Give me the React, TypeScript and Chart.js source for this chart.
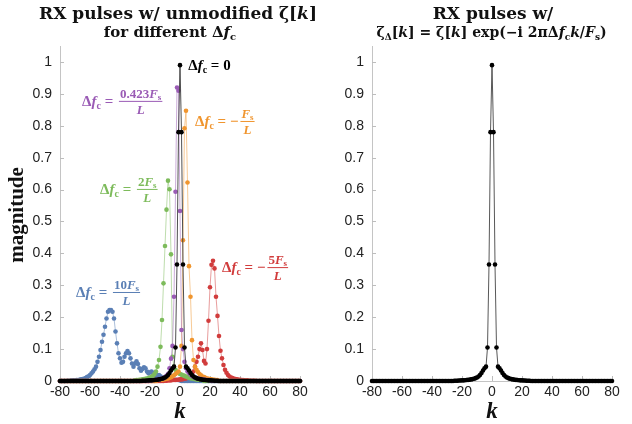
import React, { useEffect, useRef } from "react";
import { Chart, registerables } from "chart.js";

Chart.register(...registerables);

// ---------- data ----------
const kValues: number[] = Array.from({ length: 161 }, (_, i) => i - 80);

const xMin = -80;
const xMax = 80;
const xStep = 20;
const yMin = 0;
const yMax = 1.05;
const yStep = 0.1;

// each series: first k index and values from there (outside: 0)
const blackStart = -25;
const blackVals = [
  0.001, 0.001, 0.001, 0.0015, 0.0015, 0.002, 0.002, 0.0025, 0.003, 0.0035, 0.004, 0.005, 0.006,
  0.007, 0.009, 0.011, 0.014, 0.019, 0.025, 0.033, 0.04, 0.045, 0.105, 0.365, 0.78,
  0.99,
  0.78, 0.365, 0.105, 0.045, 0.04, 0.033, 0.025, 0.019, 0.014, 0.011, 0.009, 0.007, 0.006, 0.005,
  0.004, 0.0035, 0.003, 0.0025, 0.002, 0.002, 0.0015, 0.0015, 0.001, 0.001, 0.001,
];

const purpleStart = -20;
const purpleVals = [
  0.002, 0.002, 0.003, 0.003, 0.004, 0.004, 0.005, 0.006, 0.007, 0.009, 0.012, 0.016, 0.022, 0.04,
  0.07, 0.11, 0.264, 0.593, 0.92, 0.91,
  0.533, 0.16, 0.1, 0.06, 0.04, 0.03, 0.025, 0.02, 0.016, 0.013, 0.011, 0.009, 0.008, 0.007, 0.006,
  0.005, 0.004, 0.004, 0.003, 0.003, 0.002,
];

const orangeStart = -15;
const orangeVals = [
  0.003, 0.003, 0.004, 0.004, 0.005, 0.006, 0.007, 0.008, 0.01, 0.012, 0.015, 0.018, 0.022, 0.026,
  0.03,
  0.045, 0.11, 0.441, 0.792, 0.847, 0.622, 0.36, 0.264, 0.128, 0.066, 0.045, 0.035, 0.028, 0.022,
  0.018, 0.014, 0.012, 0.01, 0.008, 0.007, 0.006, 0.005, 0.004, 0.004, 0.003, 0.003,
];

const greenStart = -30;
const greenVals = [
  0.002, 0.003, 0.003, 0.004, 0.004, 0.005, 0.006, 0.007, 0.008, 0.009, 0.011, 0.013, 0.016, 0.022,
  0.03, 0.045, 0.066, 0.107, 0.191, 0.306, 0.423, 0.537, 0.628, 0.601, 0.397, 0.076, 0.045, 0.035,
  0.028, 0.025,
  0.022, 0.02, 0.018, 0.016, 0.014, 0.012, 0.01, 0.009, 0.008, 0.007, 0.006, 0.005, 0.004, 0.004,
  0.003, 0.003,
];

const redStart = -10;
const redVals = [
  0.001, 0.001, 0.002, 0.002, 0.002, 0.003, 0.003, 0.003, 0.004, 0.004,
  0.005, 0.005, 0.006, 0.007, 0.008, 0.01, 0.012, 0.015, 0.02, 0.03, 0.045, 0.06, 0.076, 0.1,
  0.118, 0.097, 0.063, 0.055, 0.1, 0.189, 0.294, 0.364, 0.377, 0.353, 0.264, 0.204, 0.141, 0.095,
  0.071, 0.05, 0.035, 0.026, 0.019, 0.014, 0.011, 0.009, 0.007, 0.006, 0.005, 0.004, 0.004, 0.003,
  0.003, 0.002, 0.002, 0.002, 0.001, 0.001, 0.001, 0.001, 0.001,
];

const blueStart = -75;
const blueVals = [
  0.001, 0.001, 0.001, 0.002, 0.002, 0.002, 0.003, 0.003, 0.004, 0.005, 0.006, 0.007, 0.009, 0.012,
  0.015, 0.019, 0.024, 0.03, 0.037, 0.045, 0.06, 0.076, 0.097, 0.123, 0.145, 0.17, 0.196, 0.217,
  0.222, 0.222, 0.217, 0.196, 0.155, 0.118, 0.087, 0.071, 0.057, 0.06, 0.076, 0.087, 0.094, 0.087,
  0.071, 0.055, 0.045, 0.055, 0.062, 0.053, 0.04, 0.032, 0.038, 0.043, 0.04, 0.03, 0.024, 0.027,
  0.03, 0.026, 0.02, 0.016, 0.018, 0.019, 0.015, 0.011, 0.009, 0.009, 0.008, 0.007, 0.006, 0.005,
  0.005, 0.004, 0.004, 0.003, 0.003, 0.002,
];

// ---------- style ----------
const SERIF = '"Liberation Serif", "DejaVu Serif", serif';
const TSERIF = '"DejaVu Serif", "Liberation Serif", serif';
const SANS = '"Liberation Sans", Arial, sans-serif';
const COL = {
  black: "#000000",
  purple: "#9a5bb5",
  orange: "#f0952e",
  green: "#7dbb5b",
  red: "#d13c3c",
  blue: "#5a7fb5",
};
const B = (s: number) => `bold ${s}px ${SERIF}`;
const BI = (s: number) => `italic bold ${s}px ${SERIF}`;
const TB = (s: number) => `bold ${s}px ${TSERIF}`;
const TBI = (s: number) => `italic bold ${s}px ${TSERIF}`;

type Run = { t: string; f: string; dy?: number };

function pad(start: number, vals: number[]) {
  return kValues.map((k) => {
    const i = k - start;
    return { x: k, y: i >= 0 && i < vals.length ? vals[i] : 0 };
  });
}

function runsWidth(ctx: CanvasRenderingContext2D, runs: Run[]) {
  let w = 0;
  for (const r of runs) {
    ctx.font = r.f;
    w += ctx.measureText(r.t).width;
  }
  return w;
}
function drawRuns(ctx: CanvasRenderingContext2D, runs: Run[], x: number, y: number) {
  let cx = x;
  for (const r of runs) {
    ctx.font = r.f;
    ctx.fillText(r.t, cx, y + (r.dy || 0));
    cx += ctx.measureText(r.t).width;
  }
  return cx;
}
function drawCentered(ctx: CanvasRenderingContext2D, runs: Run[], cx: number, y: number) {
  drawRuns(ctx, runs, cx - runsWidth(ctx, runs) / 2, y);
}

type Annot = { k: number; v: number; color: string; neg: boolean; num: Run[] | null; tail?: Run[] };

const dfc: Run[] = [
  { t: "Δ", f: B(15) },
  { t: "f", f: BI(15) },
  { t: "c", f: B(10), dy: 3 },
  { t: " = ", f: B(15) },
];
const Fs = (pre: string): Run[] => [
  ...(pre ? [{ t: pre, f: B(13) }] : []),
  { t: "F", f: BI(13) },
  { t: "s", f: B(9), dy: 2 },
];

const leftAnnots: Annot[] = [
  { k: 5.5, v: 0.99, color: COL.black, neg: false, num: null, tail: [{ t: "0", f: B(15) }] },
  { k: -65.3, v: 0.878, color: COL.purple, neg: false, num: Fs("0.423") },
  { k: 10, v: 0.815, color: COL.orange, neg: true, num: Fs("") },
  { k: -53.3, v: 0.602, color: COL.green, neg: false, num: Fs("2") },
  { k: 28, v: 0.357, color: COL.red, neg: true, num: Fs("5") },
  { k: -69.3, v: 0.279, color: COL.blue, neg: false, num: Fs("10") },
];

function drawAnnot(ctx: CanvasRenderingContext2D, chart: any, a: Annot) {
  const x = chart.scales.x.getPixelForValue(a.k);
  const y = chart.scales.y.getPixelForValue(a.v);
  ctx.fillStyle = a.color;
  ctx.strokeStyle = a.color;
  ctx.textBaseline = "alphabetic";
  const pre: Run[] = [...dfc, ...(a.neg ? [{ t: "−", f: B(15) }] : []), ...(a.tail || [])];
  const end = drawRuns(ctx, pre, x, y + 5);
  if (!a.num) return;
  const den: Run[] = [{ t: "L", f: BI(13) }];
  const nw = runsWidth(ctx, a.num);
  const dw = runsWidth(ctx, den);
  const w = Math.max(nw, dw) + 2;
  const fx = end + 2;
  ctx.lineWidth = 1;
  ctx.beginPath();
  ctx.moveTo(fx, y + 0.5);
  ctx.lineTo(fx + w, y + 0.5);
  ctx.stroke();
  drawRuns(ctx, a.num, fx + (w - nw) / 2, y - 3);
  drawRuns(ctx, den, fx + (w - dw) / 2, y + 13);
}

function decorPlugin(draw: (ctx: CanvasRenderingContext2D, chart: any) => void) {
  return {
    id: "decor",
    beforeDatasetsDraw(chart: any) {
      const ctx = chart.ctx as CanvasRenderingContext2D;
      const { left, bottom } = chart.chartArea;
      ctx.save();
      ctx.strokeStyle = "#bdbdbd";
      ctx.lineWidth = 1;
      ctx.beginPath();
      for (const t of chart.scales.y.ticks) {
        const y = Math.round(chart.scales.y.getPixelForValue(t.value)) + 0.5;
        ctx.moveTo(left, y);
        ctx.lineTo(left + 4, y);
      }
      for (const t of chart.scales.x.ticks) {
        const x = Math.round(chart.scales.x.getPixelForValue(t.value)) + 0.5;
        ctx.moveTo(x, bottom);
        ctx.lineTo(x, bottom - 5);
      }
      ctx.stroke();
      ctx.restore();
    },
    afterDraw(chart: any) {
      const ctx = chart.ctx as CanvasRenderingContext2D;
      ctx.save();
      draw(ctx, chart);
      ctx.restore();
    },
  };
}

function makeConfig(datasets: any[], yWidth: number, rightPad: number, draw: any): any {
  return {
    type: "line",
    data: { datasets },
    options: {
      animation: false,
      responsive: false,
      devicePixelRatio: 1,
      layout: { padding: { top: 46, right: rightPad, bottom: 0, left: 0 } },
      plugins: { legend: { display: false }, tooltip: { enabled: false }, title: { display: false } },
      events: [],
      scales: {
        x: {
          type: "linear",
          min: xMin,
          max: xMax,
          ticks: {
            stepSize: xStep,
            color: "#222",
            font: { family: SANS, size: 14 },
            padding: 3,
            maxRotation: 0,
            autoSkip: false,
            callback: (v: number) => String(v),
          },
          grid: { display: false, drawTicks: false },
          border: { display: true, color: "#c4c4c4" },
          afterFit: (s: any) => {
            s.height = 43;
          },
        },
        y: {
          type: "linear",
          min: yMin,
          max: yMax,
          ticks: {
            stepSize: yStep,
            includeBounds: false,
            color: "#222",
            font: { family: SANS, size: 14 },
            padding: 8,
            callback: (v: number) => String(Math.round(v * 10) / 10),
          },
          grid: { display: false, drawTicks: false },
          border: { display: true, color: "#c4c4c4" },
          afterFit: (s: any) => {
            s.width = yWidth;
          },
        },
      },
    },
    plugins: [decorPlugin(draw)],
  };
}

function ds(start: number, vals: number[], color: string, line: string) {
  return {
    data: pad(start, vals),
    borderColor: line,
    borderWidth: 1,
    pointRadius: 2.3,
    pointBackgroundColor: color,
    pointBorderColor: color,
    pointBorderWidth: 0,
    tension: 0,
    clip: false,
  };
}

function leftConfig() {
  const datasets = [
    ds(blackStart, blackVals, COL.black, "rgba(60,60,60,0.9)"),
    ds(purpleStart, purpleVals, COL.purple, "rgba(154,91,181,0.5)"),
    ds(orangeStart, orangeVals, COL.orange, "rgba(240,149,46,0.5)"),
    ds(greenStart, greenVals, COL.green, "rgba(125,187,91,0.5)"),
    ds(redStart, redVals, COL.red, "rgba(209,60,60,0.5)"),
    ds(blueStart, blueVals, COL.blue, "rgba(90,127,181,0.5)"),
  ];
  const draw = (ctx: CanvasRenderingContext2D, chart: any) => {
    const ca = chart.chartArea;
    ctx.fillStyle = "#111";
    ctx.textBaseline = "alphabetic";
    drawCentered(
      ctx,
      [
        { t: "RX pulses w/ unmodified ζ[", f: TB(17) },
        { t: "k", f: TBI(17) },
        { t: "]", f: TB(17) },
      ],
      178,
      19
    );
    drawCentered(
      ctx,
      [
        { t: "for different Δ", f: TB(15) },
        { t: "f", f: TBI(15) },
        { t: "c", f: TB(10), dy: 3 },
      ],
      170,
      37
    );
    drawCentered(ctx, [{ t: "k", f: BI(23) }], (ca.left + ca.right) / 2, 418);
    ctx.save();
    ctx.translate(18, 215);
    ctx.rotate(-Math.PI / 2);
    ctx.textAlign = "center";
    ctx.textBaseline = "middle";
    ctx.font = B(21);
    ctx.fillText("magnitude", 0, 0);
    ctx.restore();
    for (const a of leftAnnots) drawAnnot(ctx, chart, a);
  };
  return makeConfig(datasets, 60, 16, draw);
}

function rightConfig() {
  const datasets = [ds(blackStart, blackVals, COL.black, "rgba(70,70,70,0.9)")];
  const draw = (ctx: CanvasRenderingContext2D, chart: any) => {
    const ca = chart.chartArea;
    ctx.fillStyle = "#111";
    ctx.textBaseline = "alphabetic";
    drawCentered(ctx, [{ t: "RX pulses w/", f: TB(17) }], 177, 19);
    drawCentered(
      ctx,
      [
        { t: "ζ", f: TB(14) },
        { t: "Δ", f: TB(9), dy: 3 },
        { t: "[", f: TB(14) },
        { t: "k", f: TBI(14) },
        { t: "] = ζ[", f: TB(14) },
        { t: "k", f: TBI(14) },
        { t: "] exp(−i 2πΔ", f: TB(14) },
        { t: "f", f: TBI(14) },
        { t: "c", f: TB(9), dy: 3 },
        { t: "k", f: TBI(14) },
        { t: "/", f: TB(14) },
        { t: "F", f: TBI(14) },
        { t: "s", f: TB(9), dy: 3 },
        { t: ")", f: TB(14) },
      ],
      175.5,
      37
    );
    drawCentered(ctx, [{ t: "k", f: BI(23) }], (ca.left + ca.right) / 2, 418);
  };
  return makeConfig(datasets, 56, 20, draw);
}

function Panel({ make, left }: { make: () => any; left: number }) {
  const ref = useRef<HTMLCanvasElement>(null);
  useEffect(() => {
    const chart = new Chart(ref.current as HTMLCanvasElement, make());
    return () => chart.destroy();
  }, []);
  return (
    <canvas
      ref={ref}
      width={316}
      height={424}
      style={{ position: "absolute", left, top: 0, width: 316, height: 424 }}
    />
  );
}

export default function App() {
  return (
    <div style={{ position: "fixed", left: 0, top: 0, width: 632, height: 424, background: "#fff" }}>
      <Panel make={leftConfig} left={0} />
      <Panel make={rightConfig} left={316} />
    </div>
  );
}
